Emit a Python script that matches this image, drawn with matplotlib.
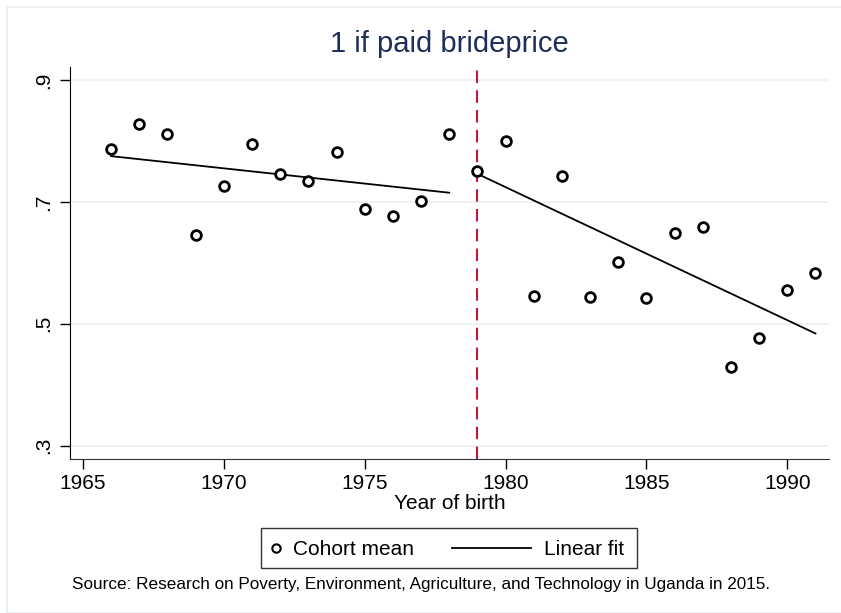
import numpy as np
import matplotlib
matplotlib.use('Agg')
import matplotlib.pyplot as plt
from matplotlib.patches import Rectangle
from matplotlib.lines import Line2D

# -------------------- data ----------------------------
years = [1966, 1967, 1968, 1969, 1970, 1971, 1972, 1973, 1974, 1975, 1976, 1977, 1978,
         1979, 1980, 1981, 1982, 1983, 1984, 1985, 1986, 1987, 1988, 1989, 1990, 1991]
cohort_mean = [0.787, 0.828, 0.812, 0.645, 0.726, 0.795, 0.746, 0.734, 0.782, 0.688, 0.676, 0.701, 0.812,
               0.750, 0.800, 0.546, 0.743, 0.544, 0.601, 0.543, 0.649, 0.659, 0.429, 0.476, 0.556, 0.584]
# fitted line end points (pre / post cutoff)
fit_pre_x = [1966, 1978]
fit_pre_y = [0.775, 0.715]
fit_post_x = [1979, 1991]
fit_post_y = [0.746, 0.484]
cutoff = 1979
yticks = [0.3, 0.5, 0.7, 0.9]
ytick_labels = ['.3', '.5', '.7', '.9']
xticks = [1965, 1970, 1975, 1980, 1985, 1990]

plt.rcParams['font.family'] = ['Liberation Sans', 'DejaVu Sans']

W, H = 841, 613


def fx(px):
    return px / W


def fy(py):
    return 1 - py / H


# -------------------- plotting ------------------------
fig = plt.figure(figsize=(8.41, 6.13), dpi=100)
fig.patches.append(Rectangle((fx(7), 0), 1.0, fy(7), transform=fig.transFigure,
                             fill=False, edgecolor='#e6edf1', lw=1.2))
ax = fig.add_axes([fx(69.7), fy(458.7), (829 - 69.7) / W, (458.7 - 67) / H])

ax.set_xlim(1964.53, 1991.48)
ax.set_ylim(0.2785, 0.9213)
ax.set_yticks(yticks)
ax.set_yticklabels(ytick_labels, rotation=90, va='center')
ax.set_xticks(xticks)
ax.grid(axis='y', color='#eaf0f2', lw=1.2)
ax.set_axisbelow(True)

for s in ['top', 'right']:
    ax.spines[s].set_visible(False)
ax.spines['left'].set_color('black')
ax.spines['bottom'].set_color('#333333')
ax.tick_params(axis='both', labelsize=15, length=7, width=1, direction='out')
ax.tick_params(axis='y', pad=5)
ax.tick_params(axis='x', pad=4)

ax.axvline(cutoff, color='#c8173f', lw=1.5, ls=(0, (6, 3.5)), zorder=2)

ax.plot(fit_pre_x, fit_pre_y, color='black', lw=1.3, zorder=3)
ax.plot(fit_post_x, fit_post_y, color='black', lw=1.3, zorder=3)
ax.plot(years, cohort_mean, 'o', ms=7, mfc='white', mec='black', mew=2, zorder=4)

ax.set_xlabel('Year of birth', fontsize=15, labelpad=1)
fig.text(fx(449), fy(44), '1 if paid brideprice', fontsize=21, color='#1f2d5c',
         ha='center', va='center')

# legend box drawn in Stata layout
fig.patches.append(Rectangle((fx(261), fy(567.7)), (637 - 261) / W, (567.7 - 527.7) / H,
                             transform=fig.transFigure, fill=False, edgecolor='#333333', lw=1.0))
fig.lines.append(Line2D([fx(276)], [fy(547.7)], transform=fig.transFigure, marker='o', ms=6,
                        mfc='white', mec='black', mew=1.5, ls='none'))
fig.text(fx(293), fy(547.7), 'Cohort mean', fontsize=15, ha='left', va='center_baseline')
fig.lines.append(Line2D([fx(452), fx(531)], [fy(547.7), fy(547.7)], transform=fig.transFigure,
                        color='black', lw=1.3))
fig.text(fx(544), fy(547.7), 'Linear fit', fontsize=15, ha='left', va='center_baseline')

fig.text(fx(420.5), fy(585), 'Source: Research on Poverty, Environment, Agriculture, and Technology in Uganda in 2015.',
         fontsize=12.3, ha='center', va='center')

fig.savefig('out.png', dpi=100, facecolor='white')
